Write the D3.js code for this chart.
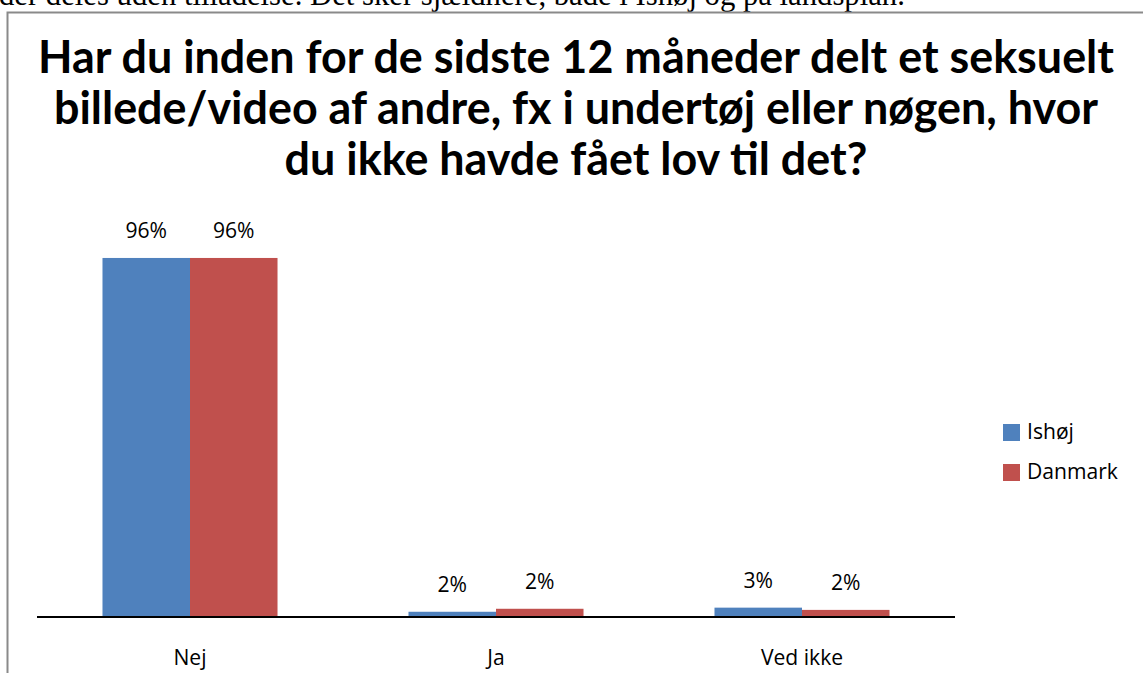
<!DOCTYPE html>
<html><head><meta charset="utf-8">
<script src="https://cdn.jsdelivr.net/npm/d3@7"></script>
<style>html,body{margin:0;padding:0;background:#fff;overflow:hidden}</style>
</head><body>
<svg id="c" width="1143" height="673"></svg>
<script>
const categories = ["Nej", "Ja", "Ved ikke"];
const seriesNames = ["Ishøj", "Danmark"];
const ishoj = [0.96, 0.014, 0.025];
const danmark = [0.96, 0.022, 0.019];
const valueLabels = [["96%", "2%", "3%"], ["96%", "2%", "2%"]];
const colors = ["#4f81bd", "#c0504d"];
const titleLines = [
  "Har du inden for de sidste 12 måneder delt et seksuelt",
  "billede/video af andre, fx i undertøj eller nøgen, hvor",
  "du ikke havde fået lov til det?"
];
const topText = "der deles uden tilladelse. Det sker sjældnere, både i Ishøj og på landsplan.";

const svg = d3.select("#c");
const titleFont = "Lato, 'Open Sans', sans-serif";
const font = "'Open Sans', Lato, sans-serif";

// measure small font size so that "Danmark" is ~91px wide
const probe = svg.append("text").attr("font-family", font).attr("font-size", 18).text("Danmark");
const fs = 18 * 91 / probe.node().getComputedTextLength();
probe.remove();

// top cropped document text
const tt = svg.append("text").attr("x", -1).attr("y", 5)
  .attr("font-family", "'Liberation Serif', 'Times New Roman', serif")
  .attr("font-size", 24).attr("fill", "#000").text(topText);
const tw = tt.node().getComputedTextLength();
tt.attr("font-size", 24 * 906 / tw);

// chart border
svg.append("rect").attr("x", 7.5).attr("y", 12.5).attr("width", 1143).attr("height", 700)
  .attr("fill", "none").attr("stroke", "#8a8a8a").attr("stroke-width", 2);

// title
const titleEls = titleLines.map((t, i) => svg.append("text").attr("x", 576).attr("y", 73 + i * 51)
    .attr("text-anchor", "middle").attr("font-family", titleFont).attr("font-weight", "bold")
    .attr("font-size", 37).attr("fill", "#000").text(t));
const ts = 1076 / titleEls[0].node().getComputedTextLength();
titleEls.forEach(el => el.attr("font-size", 37 * ts));

// scales
const x0 = d3.scaleBand().domain(categories).range([37, 955]).paddingInner(0.428).paddingOuter(0.214);
const x1 = d3.scaleBand().domain(seriesNames).range([0, x0.bandwidth()]);
const y = d3.scaleLinear().domain([0, 1]).range([617, 243]);

const data = categories.map((c, i) => ({c, vals: [ishoj[i], danmark[i]]}));
const g = svg.append("g");
data.forEach((d, ci) => {
  d.vals.forEach((v, si) => {
    const bx = x0(d.c) + x1(seriesNames[si]);
    g.append("rect").attr("x", bx).attr("y", y(v)).attr("width", x1.bandwidth())
      .attr("height", y(0) - y(v)).attr("fill", colors[si]);
    g.append("text").attr("x", bx + x1.bandwidth() / 2).attr("y", y(v) - 20)
      .attr("text-anchor", "middle").attr("font-family", font).attr("font-size", fs)
      .attr("fill", "#000").text(valueLabels[si][ci]);
  });
});

// x axis
const ax = svg.append("g").attr("transform", "translate(0,617)")
  .call(d3.axisBottom(x0).tickSize(0).tickPadding(33));
ax.select(".domain").attr("stroke", "#000").attr("stroke-width", 2).attr("d", "M37,0H955");
ax.selectAll("text").attr("font-family", font).attr("font-size", fs).attr("fill", "#000");

// legend
const lg = svg.append("g");
seriesNames.forEach((s, i) => {
  lg.append("rect").attr("x", 1003).attr("y", 424 + i * 40).attr("width", 17).attr("height", 17).attr("fill", colors[i]);
  lg.append("text").attr("x", 1027).attr("y", 439 + i * 40).attr("font-family", font)
    .attr("font-size", fs).attr("fill", "#000").text(s);
});
</script>
</body></html>
